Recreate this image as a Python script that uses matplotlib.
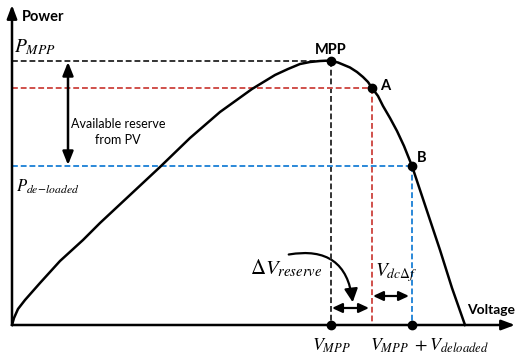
import matplotlib.pyplot as plt
from matplotlib.patches import FancyArrowPatch

plt.rcParams['mathtext.fontset'] = 'stix'

# P-V curve of the PV array (schematic units)
volt = [0, 2, 6, 13, 28, 48, 71, 88, 118, 148, 178, 208, 240, 263, 276, 288,
        298, 308, 314, 319, 326, 332, 338, 345, 351, 356, 360, 366, 371, 378,
        385, 392, 400, 413, 428, 440, 453]
power = [0, 7, 16, 25, 42, 64, 85, 102, 130, 158, 187, 213, 236, 250, 256, 261,
         263, 264, 264.3, 264, 262.5, 260, 257.5, 253, 248, 243, 237, 229, 219, 207,
         194, 179, 159, 120, 75, 37, 0]

# operating points
v_mpp, p_mpp = 319, 264
v_a, p_a = 360, 237
v_b, p_b = 400, 159

red = '#d0504b'
blue = '#2a88d8'
gray = '#333333'

fig = plt.figure(figsize=(5.15, 3.55), dpi=100)
ax = fig.add_axes([0, 0, 1, 1])
ax.set_xlim(-12, 503)
ax.set_ylim(-30, 325)
ax.axis('off')

# axes with arrows
ax.annotate('', xy=(0, 320), xytext=(0, 0),
            arrowprops=dict(arrowstyle='-|>,head_length=0.8,head_width=0.3', color='black',
                            lw=1.8, shrinkA=0, shrinkB=0))
ax.annotate('', xy=(503, 0), xytext=(0, 0),
            arrowprops=dict(arrowstyle='-|>,head_length=0.8,head_width=0.3', color='black',
                            lw=1.8, shrinkA=0, shrinkB=0))

# dashed guide lines
ls = (0, (3, 1.5))
ax.plot([0, v_mpp], [p_mpp, p_mpp], color=gray, ls=ls, lw=1.4)
ax.plot([v_mpp, v_mpp], [p_mpp, 0], color=gray, ls=ls, lw=1.4)
ax.plot([0, v_a], [p_a, p_a], color=red, ls=ls, lw=1.4)
ax.plot([v_a, v_a], [p_a, 0], color=red, ls=ls, lw=1.4)
ax.plot([0, v_b], [p_b, p_b], color=blue, ls=ls, lw=1.4)
ax.plot([v_b, v_b], [p_b, 0], color=blue, ls=ls, lw=1.4)

# curve
ax.plot(volt, power, color='black', lw=1.8, solid_joinstyle='round')

# points
ax.plot([v_mpp, v_a, v_b, v_mpp, v_b], [p_mpp, p_a, p_b, 0, 0], 'o',
        color='black', ms=6)

bold = dict(family='Lato', fontweight='bold', fontsize=10.5)
ax.text(10, 308, 'Power', va='center', ha='left', **bold)
ax.text(455, 15, 'Voltage', va='center', ha='left', family='Lato',
        fontweight='bold', fontsize=10)
ax.text(v_mpp, 275, 'MPP', va='center', ha='center', **bold)
ax.text(v_a + 8, p_a + 2, 'A', va='center', ha='left', **bold)
ax.text(v_b + 5, p_b + 8, 'B', va='center', ha='left', **bold)

ax.text(2, 278, r'$P_{MPP}$', fontsize=14, va='center', ha='left')
ax.text(4, 138, r'$P_{de\!-\!loaded}$', fontsize=12, va='center', ha='left')

# available reserve arrow
ax.annotate('', xy=(56, p_mpp - 1), xytext=(56, p_b + 1),
            arrowprops=dict(arrowstyle='<|-|>,head_length=0.8,head_width=0.32', color='black',
                            lw=1.8, shrinkA=0, shrinkB=0))
ax.text(106, 193, 'Available reserve\nfrom PV', fontsize=9, family='Lato',
        ha='center', va='center', linespacing=1.45)

# bottom labels
ax.text(v_mpp, -21, r'$V_{MPP}$', fontsize=13, ha='center', va='center')
ax.text(v_a - 2, -21, r'$V_{MPP}\ +V_{deloaded}$', fontsize=13, ha='left', va='center')

# delta arrows
small = dict(arrowstyle='<|-|>,head_length=0.6,head_width=0.28', color='black',
             lw=1.6, shrinkA=0, shrinkB=0)
ax.annotate('', xy=(320, 17), xytext=(357, 17), arrowprops=small)
ax.annotate('', xy=(361, 29), xytext=(397, 29), arrowprops=small)
ax.text(238, 57, r'$\Delta V_{reserve}$', fontsize=15, ha='left', va='center')
ax.text(363, 52, r'$V_{dc\Delta f}$', fontsize=14, ha='left', va='center')

curved = FancyArrowPatch((274, 70), (341, 20), connectionstyle='arc3,rad=-0.55',
                         arrowstyle='-|>,head_length=8,head_width=4',
                         color='black', lw=1.6)
ax.add_patch(curved)

fig.savefig('out.png', dpi=100)
